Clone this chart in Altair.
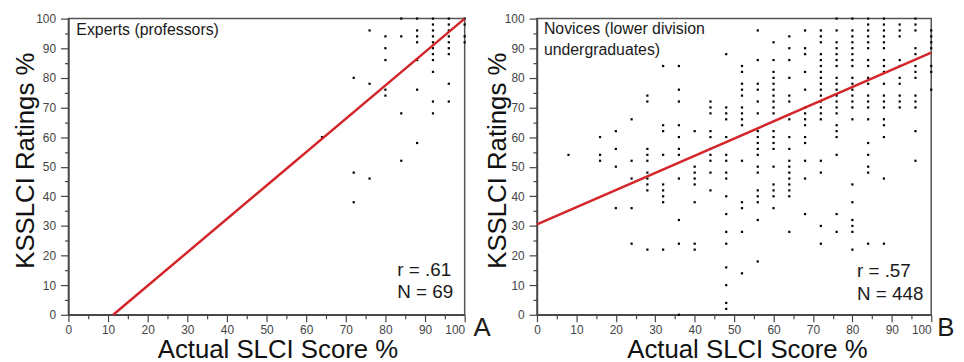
import altair as alt
import pandas as pd

FONT = "Liberation Sans"
RED = "#d3262b"

# ---------------- data ----------------
# Experts (professors): actual score columns and the ratings seen at each
expert_scores = [64, 72, 76, 80, 84, 88, 92, 96, 100]
expert_ratings = [
    [60],
    [80, 48, 38],
    [96, 78, 46],
    [94, 90, 86, 76, 74],
    [100, 94, 68, 52],
    [100, 96, 94, 92, 86, 76, 58],
    [100, 98, 96, 94, 92, 90, 88, 86, 82, 72, 68],
    [100, 98, 96, 94, 92, 90, 88, 78, 72],
    [100, 98, 94, 92],
]
expert_fit_x = [11.3, 100]
expert_fit_y = [0, 100]

# Novices (lower division undergraduates)
novice_scores = [8, 16, 20, 24, 28, 32, 36, 40, 44, 48, 52, 56, 60, 64, 68,
                 72, 76, 80, 84, 88, 92, 96, 100]
novice_ratings = [
    [54],
    [60, 54, 52],
    [62, 56, 50, 36],
    [66, 52, 46, 36, 24],
    [74, 72, 56, 54, 52, 48, 46, 44, 42, 22],
    [84, 64, 62, 54, 44, 42, 40, 38, 22],
    [84, 76, 72, 64, 60, 56, 54, 46, 32, 24, 0],
    [62, 50, 48, 46, 44, 38, 24, 22],
    [72, 70, 68, 62, 60, 56, 54, 52, 48, 42],
    [88, 70, 68, 66, 60, 54, 52, 48, 46, 40, 34, 28, 24, 16, 10, 4, 2],
    [84, 82, 78, 76, 74, 70, 68, 66, 64, 52, 38, 36, 28, 14],
    [96, 86, 78, 76, 72, 68, 62, 60, 58, 56, 54, 50, 48, 42, 40, 38, 32, 18],
    [92, 86, 82, 80, 78, 76, 74, 72, 70, 68, 62, 60, 58, 56, 50, 44, 42, 40, 36],
    [94, 90, 86, 80, 74, 72, 66, 60, 56, 52, 50, 48, 46, 44, 42, 40, 28],
    [96, 90, 88, 82, 76, 70, 68, 66, 64, 60, 58, 52, 46, 34],
    [96, 94, 92, 88, 86, 84, 82, 80, 78, 76, 74, 72, 70, 68, 66, 52, 48, 30, 24],
    [100, 96, 92, 90, 88, 86, 84, 80, 78, 76, 74, 72, 70, 68, 64, 62, 60, 54, 34, 28],
    [100, 96, 94, 92, 90, 88, 86, 84, 80, 78, 76, 74, 72, 70, 66, 44, 38, 32, 30, 28, 22],
    [100, 98, 96, 94, 92, 90, 86, 84, 80, 78, 74, 72, 70, 66, 58, 54, 50, 48, 24],
    [100, 98, 96, 94, 92, 90, 86, 84, 82, 78, 74, 72, 70, 66, 64, 60, 46, 24],
    [98, 96, 94, 86, 84, 80, 78, 74, 72, 70],
    [100, 98, 96, 90, 88, 84, 82, 80, 74, 72, 70, 62, 52],
    [96, 94, 92, 90, 84, 82, 76],
]
novice_fit_x = [0, 100]
novice_fit_y = [30.5, 88.5]

major_ticks = list(range(0, 101, 10))
minor_ticks = list(range(5, 100, 10))


def to_frame(scores, ratings):
    rows = [(s, r) for s, col in zip(scores, ratings) for r in col]
    return pd.DataFrame(rows, columns=["x", "y"])


def x_axis(title_x):
    return alt.Axis(
        orient="bottom",
        values=major_ticks,
        tickSize=7,
        labelAlign={"condition": {"test": "datum.value === 100", "value": "right"}, "value": "center"},
        labelFlush=False, labelOverlap=False,
        labelFont=FONT, labelFontSize=12, labelColor="#444", labelPadding=3,
        domainColor="#444", domainWidth=1.5, tickColor="#444", tickWidth=1.2,
        grid=False,
        title="Actual SLCI Score %", titleFont=FONT, titleFontSize=26,
        titleFontWeight="normal", titleColor="#111",
        titleX=title_x, titleY=43, titleAlign="center", titleBaseline="alphabetic",
    )


def y_axis(title_x):
    return alt.Axis(
        orient="left",
        values=major_ticks,
        tickSize=8, labelOverlap=False,
        labelFont=FONT, labelFontSize=12, labelColor="#444", labelPadding=5,
        domainColor="#444", domainWidth=1.5, tickColor="#444", tickWidth=1.2,
        grid=False,
        title="KSSLCI Ratings %", titleFont=FONT, titleFontSize=26,
        titleFontWeight="normal", titleColor="#111",
        titleX=title_x, titleY=143, titleAngle=270, titleAlign="center",
        titleBaseline="alphabetic",
    )


def minor_axis(orient):
    return alt.Axis(
        orient=orient, values=minor_ticks, tickSize=4, labels=False, domain=False,
        tickColor="#444", tickWidth=1.2, grid=False, title=None,
    )


def label(text, x, y, size, align="left"):
    return alt.Chart(pd.DataFrame({"t": [text]})).mark_text(
        align=align, baseline="alphabetic", fontSize=size, font=FONT, color="#1a1a1a"
    ).encode(x=alt.value(x), y=alt.value(y), text="t:N")


def panel(pts, fx, fy, width, xt, yt, texts):
    scale = alt.Scale(domain=[0, 100], nice=False, zero=False)
    points = alt.Chart(pts).mark_square(size=5, color="black", opacity=1).encode(
        x=alt.X("x:Q", scale=scale, axis=x_axis(xt)),
        y=alt.Y("y:Q", scale=scale, axis=y_axis(yt)),
    )
    fit = alt.Chart(pd.DataFrame({"x": fx, "y": fy})).mark_line(
        color=RED, strokeWidth=2.5
    ).encode(
        x=alt.X("x:Q", scale=scale, axis=minor_axis("bottom")),
        y=alt.Y("y:Q", scale=scale, axis=minor_axis("left")),
    )
    layers = [points, fit] + [label(*t) for t in texts]
    return (
        alt.layer(*layers)
        .resolve_scale(x="shared", y="shared")
        .resolve_axis(x="independent", y="independent")
        .properties(width=width, height=299)
    )


left = panel(
    to_frame(expert_scores, expert_ratings), expert_fit_x, expert_fit_y, 400, 211, -35,
    [
        ("Experts (professors)", 8, 17, 16),
        ("r = .61", 332, 260, 19),
        ("N = 69", 332, 282, 19),
        ("A", 409, 320, 26),
    ],
)

right = panel(
    to_frame(novice_scores, novice_ratings), novice_fit_x, novice_fit_y, 398, 212, -32,
    [
        ("Novices (lower division", 7, 16, 16),
        ("undergraduates)", 7, 36.5, 16),
        ("r = .57", 323, 261, 19),
        ("N = 448", 323, 284, 19),
        ("B", 404, 320, 26),
    ],
)

chart = alt.hconcat(left, right, spacing=73, bounds="flush").properties(
    padding={"left": 4, "top": 2, "right": 0, "bottom": 0}
).configure(font=FONT).configure_view(stroke="#555", strokeWidth=1.5)

chart.save("out.html", embed_options={"renderer": "svg", "actions": False})
